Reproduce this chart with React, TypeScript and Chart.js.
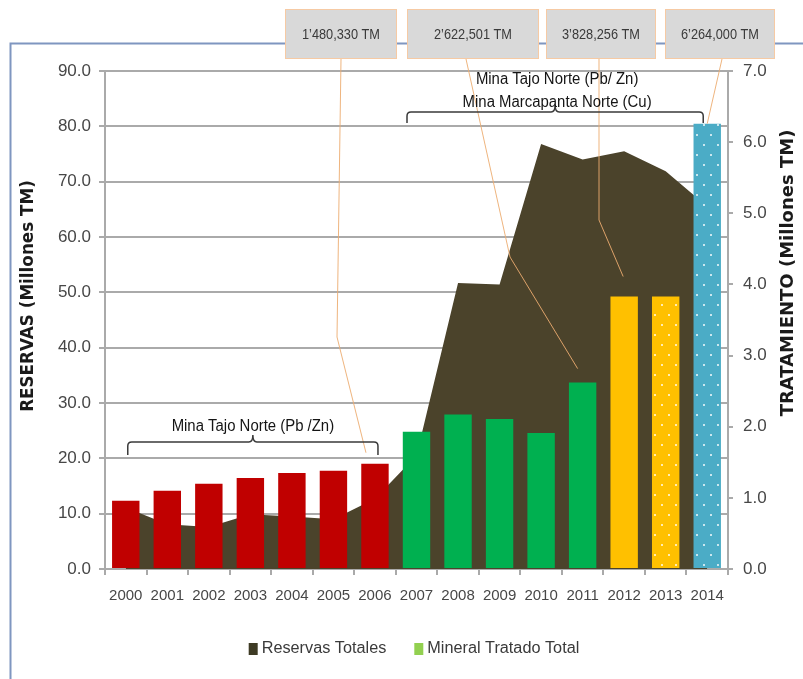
import React, { useEffect, useRef } from 'react';
import { Chart, registerables } from 'chart.js';

Chart.register(...registerables);

// ---------- DATA ----------
const years = ['2000', '2001', '2002', '2003', '2004', '2005', '2006', '2007', '2008', '2009', '2010', '2011', '2012', '2013', '2014'];
// Reservas Totales (Millones TM) - left axis
const reservasTotales = [11.1, 8.1, 7.6, 9.9, 9.5, 9.0, 12.7, 20.5, 51.7, 51.4, 76.8, 74.0, 75.5, 71.9, 65.5];
// Mineral Tratado Total (Millones TM) - right axis
const mineralTratado = [0.96, 1.10, 1.20, 1.28, 1.35, 1.38, 1.48, 1.93, 2.17, 2.11, 1.91, 2.62, 3.83, 3.83, 6.26];
// fill kind of each bar
const barKinds = ['red', 'red', 'red', 'red', 'red', 'red', 'red', 'green', 'green', 'green', 'green', 'green', 'yellow', 'yellowDots', 'blueDots'];
const leftAxisMax = 90;
const leftAxisStep = 10;
const rightAxisMax = 7;
const rightAxisStep = 1;
const calloutLabels = ['1’480,330 TM', '2’622,501 TM', '3’828,256 TM', '6’264,000 TM'];
const calloutYearIndex = [6, 11, 12, 14];
const lowerBracketLabels = ['Mina Tajo Norte (Pb /Zn)'];
const upperBracketLabels = ['Mina Tajo Norte (Pb/ Zn)', 'Mina Marcapanta Norte (Cu)'];
const legendLabels = ['Reservas Totales', 'Mineral Tratado Total'];
const leftTitle = 'RESERVAS (Millones TM)';
const rightTitle = 'TRATAMIENTO (Millones TM)';

// ---------- STYLE ----------
const SANS = '"Liberation Sans", Arial, sans-serif';
const BOLD_FAMILY = '"DejaVu Sans", Verdana, sans-serif';
const COLORS: Record<string, string> = {
  red: '#c00000',
  green: '#00b050',
  yellow: '#ffc000',
  blue: '#4bacc6',
  area: '#4b432b',
  areaLegend: '#3e3b24',
  mineralLegend: '#92d050',
  grid: '#aaaaaa',
  tick: '#474747',
  frame: '#7f96c0',
  callout: 'rgba(236,172,112,0.9)',
  boxFill: '#d9d9d9',
  boxStroke: '#f6caa4',
  bracket: '#3a3a3a',
};

function makeDots(ctx: CanvasRenderingContext2D, base: string) {
  const c = document.createElement('canvas');
  c.width = 14;
  c.height = 20;
  const g = c.getContext('2d')!;
  g.fillStyle = base;
  g.fillRect(0, 0, 14, 20);
  g.fillStyle = 'rgba(255,255,255,0.7)';
  g.fillRect(3, 4, 2, 2);
  g.fillRect(10, 14, 2, 2);
  return ctx.createPattern(c, 'repeat') as CanvasPattern;
}

const LAYOUT = {
  boxTop: 9,
  boxBottom: 59,
  boxLeft: [285, 407, 546, 665],
  boxRight: [397, 539, 656, 775],
  lineStartX: [341, 466, 599, 722],
  kinks: [[337, 337], [510, 257], [599, 220], null] as (number[] | null)[],
  endOffsets: [[-9, -11], [-5, -14], [-1, -20], [0, 0]],
};

function drawBracket(ctx: CanvasRenderingContext2D, x1: number, x2: number, yTop: number, yEnd: number, notch: number) {
  const r = 4;
  const xm = (x1 + x2) / 2;
  ctx.beginPath();
  ctx.moveTo(x1, yEnd);
  ctx.lineTo(x1, yTop + r);
  ctx.quadraticCurveTo(x1, yTop, x1 + r, yTop);
  ctx.lineTo(xm - 4, yTop);
  ctx.quadraticCurveTo(xm, yTop, xm, yTop - notch);
  ctx.quadraticCurveTo(xm, yTop, xm + 4, yTop);
  ctx.lineTo(x2 - r, yTop);
  ctx.quadraticCurveTo(x2, yTop, x2, yTop + r);
  ctx.lineTo(x2, yEnd);
  ctx.stroke();
}

function fitSize(ctx: CanvasRenderingContext2D, s: string, font: (px: number) => string, target: number) {
  ctx.font = font(20);
  const w = ctx.measureText(s).width;
  return (20 * target) / w;
}

// horizontal squeeze factor so that text `s` at `font` spans `target` px
function squeeze(ctx: CanvasRenderingContext2D, s: string, font: string, target: number) {
  ctx.font = font;
  return target / ctx.measureText(s).width;
}

function condensedText(ctx: CanvasRenderingContext2D, s: string, x: number, y: number, font: string, sx: number, align: CanvasTextAlign) {
  ctx.save();
  ctx.font = font;
  ctx.textAlign = align;
  ctx.textBaseline = 'middle';
  ctx.translate(x, y);
  ctx.scale(sx, 1);
  ctx.fillText(s, 0, 0);
  ctx.restore();
}

const annotationPlugin = {
  id: 'annotations',
  beforeDraw(chart: any) {
    const ctx: CanvasRenderingContext2D = chart.ctx;
    ctx.save();
    ctx.strokeStyle = COLORS.frame;
    ctx.lineWidth = 2;
    ctx.beginPath();
    ctx.moveTo(10.5, 679);
    ctx.lineTo(10.5, 43.5);
    ctx.lineTo(803, 43.5);
    ctx.stroke();
    ctx.restore();
  },
  afterDraw(chart: any) {
    const ctx: CanvasRenderingContext2D = chart.ctx;
    const xs = chart.scales.x;
    const bars = chart.getDatasetMeta(1).data;
    ctx.save();

    // callout leader lines
    ctx.strokeStyle = COLORS.callout;
    ctx.lineWidth = 1;
    calloutYearIndex.forEach((idx, i) => {
      const bar = bars[idx];
      const [dx, dy] = LAYOUT.endOffsets[i];
      ctx.beginPath();
      ctx.moveTo(LAYOUT.lineStartX[i], LAYOUT.boxBottom);
      const k = LAYOUT.kinks[i];
      if (k) ctx.lineTo(k[0], k[1]);
      ctx.lineTo(bar.x + dx, bar.y + dy);
      ctx.stroke();
    });

    // callout boxes
    const boxFont = `15px ${SANS}`;
    const boxSx = squeeze(ctx, calloutLabels[0], boxFont, 78);
    calloutLabels.forEach((label, i) => {
      const l = LAYOUT.boxLeft[i];
      const r = LAYOUT.boxRight[i];
      ctx.fillStyle = COLORS.boxFill;
      ctx.fillRect(l, LAYOUT.boxTop, r - l, LAYOUT.boxBottom - LAYOUT.boxTop);
      ctx.strokeStyle = COLORS.boxStroke;
      ctx.lineWidth = 1;
      ctx.strokeRect(l + 0.5, LAYOUT.boxTop + 0.5, r - l - 1, LAYOUT.boxBottom - LAYOUT.boxTop - 1);
      ctx.fillStyle = '#3a3a3a';
      condensedText(ctx, label, (l + r) / 2, (LAYOUT.boxTop + LAYOUT.boxBottom) / 2 + 1, boxFont, boxSx, 'center');
    });

    // brackets
    ctx.strokeStyle = COLORS.bracket;
    ctx.lineWidth = 1.5;
    const lx1 = xs.getPixelForValue(0) + 2;
    const lx2 = xs.getPixelForValue(6) + 3;
    drawBracket(ctx, lx1, lx2, 442, 455, 7);
    const ux1 = xs.getPixelForValue(7) - 9.5;
    const ux2 = xs.getPixelForValue(14) - 4;
    drawBracket(ctx, ux1, ux2, 112, 123, 7);

    const brFont = `16px ${SANS}`;
    const brSx = squeeze(ctx, upperBracketLabels[1], brFont, 189);
    ctx.fillStyle = '#141414';
    condensedText(ctx, lowerBracketLabels[0], (lx1 + lx2) / 2, 427, brFont, brSx, 'center');
    condensedText(ctx, upperBracketLabels[0], (ux1 + ux2) / 2 + 2, 80, brFont, brSx, 'center');
    condensedText(ctx, upperBracketLabels[1], (ux1 + ux2) / 2 + 2, 103, brFont, brSx, 'center');

    // axis titles
    const boldFont = (px: number) => `bold ${px}px ${BOLD_FAMILY}`;
    ctx.fillStyle = '#1a1a1a';
    ctx.textAlign = 'center';
    ctx.textBaseline = 'middle';
    const ls = fitSize(ctx, leftTitle, boldFont, 232);
    ctx.font = boldFont(ls);
    ctx.save();
    ctx.translate(29, 296);
    ctx.rotate(-Math.PI / 2);
    ctx.fillText(leftTitle, 0, 0);
    ctx.restore();
    const rs = fitSize(ctx, rightTitle, boldFont, 287);
    ctx.font = boldFont(rs);
    ctx.save();
    ctx.translate(788, 273);
    ctx.rotate(-Math.PI / 2);
    ctx.fillText(rightTitle, 0, 0);
    ctx.restore();

    // legend
    const lgFont = `16px ${SANS}`;
    const lgSx = squeeze(ctx, legendLabels[1], lgFont, 152);
    ctx.font = lgFont;
    const w1 = ctx.measureText(legendLabels[0]).width * lgSx;
    const w2 = ctx.measureText(legendLabels[1]).width * lgSx;
    const sq = 9;
    const total = sq + 4 + w1 + 28 + sq + 4 + w2;
    let x = 414 - total / 2;
    const ly = 649;
    ctx.fillStyle = COLORS.areaLegend;
    ctx.fillRect(x, ly - 6, sq, 12);
    x += sq + 4;
    ctx.fillStyle = '#3a3a3a';
    condensedText(ctx, legendLabels[0], x, ly, lgFont, lgSx, 'left');
    x += w1 + 28;
    ctx.fillStyle = COLORS.mineralLegend;
    ctx.fillRect(x, ly - 6, sq, 12);
    x += sq + 4;
    ctx.fillStyle = '#3a3a3a';
    condensedText(ctx, legendLabels[1], x, ly, lgFont, lgSx, 'left');

    ctx.restore();
  },
};

export default function App() {
  const canvasRef = useRef<HTMLCanvasElement>(null);

  useEffect(() => {
    const canvas = canvasRef.current!;
    const ctx = canvas.getContext('2d')!;
    const fills = barKinds.map((k) => {
      if (k === 'yellowDots') return makeDots(ctx, COLORS.yellow);
      if (k === 'blueDots') return makeDots(ctx, COLORS.blue);
      return COLORS[k];
    });

    const chart = new Chart(ctx, {
      type: 'bar',
      data: {
        labels: years,
        datasets: [
          {
            type: 'line',
            label: legendLabels[0],
            data: reservasTotales,
            yAxisID: 'y',
            backgroundColor: COLORS.area,
            borderColor: COLORS.area,
            borderWidth: 0,
            pointRadius: 0,
            fill: 'origin',
            tension: 0,
            order: 2,
          } as any,
          {
            type: 'bar',
            label: legendLabels[1],
            data: mineralTratado,
            yAxisID: 'y2',
            backgroundColor: fills as any,
            borderWidth: 0,
            barPercentage: 0.66,
            categoryPercentage: 1,
            order: 1,
          },
        ],
      },
      options: {
        responsive: false,
        animation: false,
        layout: { padding: { top: 71, left: 0, right: 0, bottom: 0 } },
        plugins: {
          legend: { display: false },
          tooltip: { enabled: false },
        },
        scales: {
          x: {
            grid: {
              display: true,
              drawOnChartArea: false,
              drawTicks: true,
              tickLength: 6,
              color: COLORS.grid,
              lineWidth: 2,
              offset: true,
            },
            border: { display: true, color: COLORS.grid, width: 2 },
            ticks: {
              color: COLORS.tick,
              font: { family: SANS, size: 15 },
              padding: 12,
              maxRotation: 0,
              autoSkip: false,
            },
            afterFit: (s: any) => {
              s.height = 110;
            },
          },
          y: {
            position: 'left',
            min: 0,
            max: leftAxisMax,
            ticks: {
              stepSize: leftAxisStep,
              callback: (v: any) => Number(v).toFixed(1),
              color: COLORS.tick,
              font: { family: SANS, size: 17 },
              padding: 8,
            },
            grid: { color: COLORS.grid, lineWidth: 2, tickLength: 6 },
            border: { display: true, color: COLORS.grid, width: 2 },
            afterFit: (s: any) => {
              s.width = 105;
            },
          },
          y2: {
            position: 'right',
            min: 0,
            max: rightAxisMax,
            ticks: {
              stepSize: rightAxisStep,
              callback: (v: any) => Number(v).toFixed(1),
              color: COLORS.tick,
              font: { family: SANS, size: 17 },
              padding: 10,
            },
            grid: { drawOnChartArea: false, color: COLORS.grid, lineWidth: 2, tickLength: 5 },
            border: { display: true, color: COLORS.grid, width: 2 },
            afterFit: (s: any) => {
              s.width = 75;
            },
          },
        },
      } as any,
      plugins: [annotationPlugin],
    });
    return () => chart.destroy();
  }, []);

  return (
    <div style={{ position: 'absolute', left: 0, top: 0, width: 803, height: 679, background: '#fff' }}>
      <canvas ref={canvasRef} width={803} height={679} style={{ display: 'block' }} />
    </div>
  );
}
